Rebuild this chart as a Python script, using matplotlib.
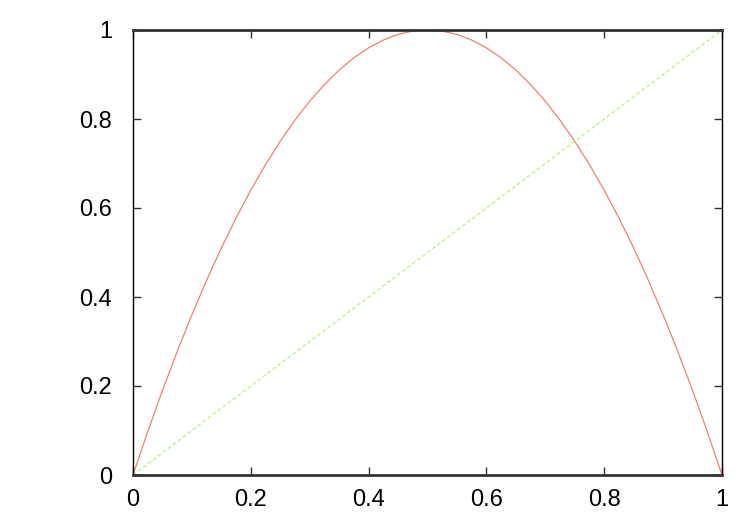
import matplotlib
matplotlib.use('Agg')
import matplotlib.pyplot as plt
from matplotlib.ticker import FuncFormatter

# curve values
x_vals = [0.0, 0.025, 0.05, 0.075, 0.1, 0.125, 0.15, 0.175, 0.2, 0.225,
          0.25, 0.275, 0.3, 0.325, 0.35, 0.375, 0.4, 0.425, 0.45, 0.475,
          0.5, 0.525, 0.55, 0.575, 0.6, 0.625, 0.65, 0.675, 0.7, 0.725,
          0.75, 0.775, 0.8, 0.825, 0.85, 0.875, 0.9, 0.925, 0.95, 0.975, 1.0]
curve = [0.0, 0.0975, 0.19, 0.2775, 0.36, 0.4375, 0.51, 0.5775, 0.64, 0.6975,
         0.75, 0.7975, 0.84, 0.8775, 0.91, 0.9375, 0.96, 0.9775, 0.99, 0.9975,
         1.0, 0.9975, 0.99, 0.9775, 0.96, 0.9375, 0.91, 0.8775, 0.84, 0.7975,
         0.75, 0.6975, 0.64, 0.5775, 0.51, 0.4375, 0.36, 0.2775, 0.19, 0.0975, 0.0]
diag_x = [0.0, 1.0]
diag_y = [0.0, 1.0]
ticks = [0, 0.2, 0.4, 0.6, 0.8, 1]

plt.rcParams['font.family'] = ['Liberation Sans', 'DejaVu Sans']

fig = plt.figure(figsize=(7.5, 5.25), dpi=100)
ax = fig.add_axes([133 / 750, 1 - 475 / 525, (722 - 133) / 750, (475 - 30) / 525])

ax.plot(x_vals, curve, color='#f08070', lw=0.9)
ax.plot(diag_x, diag_y, color='#b8f080', lw=0.9, dashes=(3, 2))

ax.set_xlim(0, 1)
ax.set_ylim(0, 1)
ax.set_xticks(ticks)
ax.set_yticks(ticks)
fmt = FuncFormatter(lambda v, p: '%g' % v)
ax.xaxis.set_major_formatter(fmt)
ax.yaxis.set_major_formatter(fmt)
ax.tick_params(direction='in', top=True, right=True, length=6, width=1,
               labelsize=17, color='#333333')
ax.tick_params(axis='x', pad=10)
ax.tick_params(axis='y', pad=15)

for side in ['top', 'bottom']:
    ax.spines[side].set_linewidth(2)
    ax.spines[side].set_color('#333333')
for side in ['left', 'right']:
    ax.spines[side].set_linewidth(1)
    ax.spines[side].set_color('black')

fig.savefig('out.png', dpi=100)
